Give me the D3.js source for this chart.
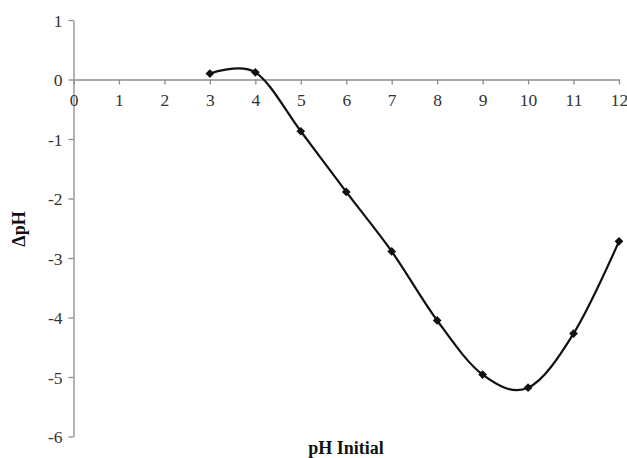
<!DOCTYPE html>
<html>
<head>
<meta charset="utf-8">
<script src="https://cdn.jsdelivr.net/npm/d3@7"></script>
<style>
  html, body { margin: 0; padding: 0; background: #fff; }
  svg { display: block; }
  text { font-family: "Liberation Serif", "Times New Roman", serif; }
</style>
</head>
<body>
<svg id="chart" width="627" height="458"></svg>
<script>
const phInitial = [3, 4, 5, 6, 7, 8, 9, 10, 11, 12];
const deltaPH = [0.1, 0.12, -0.87, -1.89, -2.89, -4.05, -4.96, -5.18, -4.27, -2.72];
const xTicks = [0, 1, 2, 3, 4, 5, 6, 7, 8, 9, 10, 11, 12];
const yTicks = [1, 0, -1, -2, -3, -4, -5, -6];
const xTitle = "pH Initial";
const yTitle = "ΔpH";

const svg = d3.select("#chart");
const plotLeft = 73.5, plotRight = 619, plotTop = 20, plotBottom = 436.5;
const x = d3.scaleLinear().domain([0, 12]).range([plotLeft, plotRight]);
const y = d3.scaleLinear().domain([-6, 1]).range([plotBottom, plotTop]);
const axisColor = "#8c8c8c";
const textColor = "#333";
const font = "Liberation Serif, Times New Roman, serif";

// y axis
const yAxis = svg.append("g")
  .attr("transform", `translate(${plotLeft},0)`)
  .call(d3.axisLeft(y).tickValues(yTicks).tickSize(5).tickSizeOuter(0).tickFormat(d => d));
yAxis.attr("font-family", font).attr("font-size", 17.5);
yAxis.select(".domain").attr("stroke", axisColor).attr("stroke-width", 1.3);
yAxis.selectAll(".tick line").attr("stroke", axisColor).attr("stroke-width", 1.3);
yAxis.selectAll(".tick text")
  .attr("x", -11).attr("dy", "0.35em")
  .attr("fill", textColor);

// x axis at y=0
const xAxis = svg.append("g")
  .attr("transform", `translate(0,${y(0)})`)
  .call(d3.axisBottom(x).tickValues(xTicks).tickSize(5).tickSizeOuter(0).tickFormat(d => d));
xAxis.attr("font-family", font).attr("font-size", 17.5);
xAxis.select(".domain").attr("stroke", axisColor).attr("stroke-width", 1.3);
xAxis.selectAll(".tick line").attr("stroke", axisColor).attr("stroke-width", 1.3);
xAxis.selectAll(".tick text")
  .attr("y", 14).attr("dy", "0.71em")
  .attr("fill", textColor);

// line
const pts = phInitial.map((d, i) => [d, deltaPH[i]]);
const line = d3.line()
  .x(d => x(d[0])).y(d => y(d[1]))
  .curve(d3.curveCardinal.tension(0));
svg.append("path")
  .datum(pts)
  .attr("d", line)
  .attr("fill", "none")
  .attr("stroke", "#111")
  .attr("stroke-width", 2.2);

// markers
svg.append("g").selectAll("path")
  .data(pts)
  .join("path")
  .attr("transform", d => `translate(${x(d[0])},${y(d[1])}) rotate(45)`)
  .attr("d", d3.symbol(d3.symbolSquare, 38)())
  .attr("fill", "#111");

// titles
svg.append("text")
  .attr("x", 346).attr("y", 454)
  .attr("text-anchor", "middle")
  .attr("font-family", font).attr("font-size", 18).attr("font-weight", "bold")
  .attr("fill", "#111")
  .text(xTitle);

svg.append("text")
  .attr("transform", "translate(25,229) rotate(-90)")
  .attr("text-anchor", "middle")
  .attr("font-family", font).attr("font-size", 18).attr("font-weight", "bold")
  .attr("fill", "#111")
  .text(yTitle);
</script>
</body>
</html>
